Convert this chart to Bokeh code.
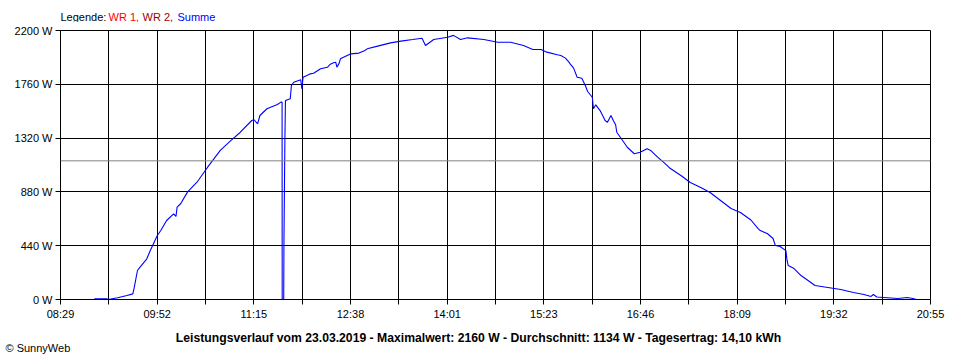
from bokeh.plotting import figure
from bokeh.layouts import column
from bokeh.models import Range1d, FixedTicker, PrintfTickFormatter, Span, Label
from bokeh.embed import file_html
from bokeh.resources import INLINE

# ---- data ----
times = ["08:58", "09:09", "09:10", "09:18", "09:26", "09:31", "09:32", "09:35", "09:36", "09:43",
         "09:46", "09:48", "09:52", "09:55", "10:00", "10:06", "10:08", "10:09", "10:12", "10:18",
         "10:26", "10:35", "10:46", "10:55", "11:03", "11:13", "11:15", "11:18", "11:20", "11:26",
         "11:35", "11:38", "11:39:00", "11:39:06", "11:40:24", "11:40:36", "11:41:24", "11:41:54",
         "11:46", "11:47", "11:49", "11:55", "11:56", "11:57", "12:03", "12:06", "12:12", "12:18",
         "12:20", "12:23", "12:25", "12:26", "12:28", "12:29", "12:38", "12:45", "12:50", "12:52",
         "13:01", "13:12", "13:21", "13:31", "13:39", "13:42", "13:49", "14:01", "14:06", "14:12",
         "14:18", "14:32", "14:44", "14:55", "15:06", "15:14", "15:21", "15:26", "15:35", "15:38",
         "15:42", "15:45", "15:46", "15:49", "15:52", "15:56", "15:59", "16:01", "16:05", "16:06",
         "16:08", "16:12", "16:16", "16:18", "16:21", "16:23", "16:25", "16:26", "16:31", "16:35",
         "16:41", "16:46", "16:52", "16:55", "17:01", "17:06", "17:12", "17:21", "17:29", "17:38",
         "17:46", "17:55", "18:04", "18:12", "18:21", "18:27", "18:29", "18:35", "18:40", "18:42",
         "18:46", "18:51", "18:52", "18:53", "18:58", "19:04", "19:10", "19:16", "19:27", "19:38",
         "19:49", "19:58", "20:04", "20:06", "20:09", "20:15", "20:27", "20:35", "20:40", "20:43"]
summe_w = [5, 5, 0, 14, 33, 46, 87, 237, 251, 333,
           401, 441, 523, 564, 646, 701, 679, 755, 783, 880,
           959, 1080, 1219, 1300, 1366, 1464, 1470, 1437, 1505, 1560,
           1595, 1614, 1614, 0, 0, 469, 1300, 1627,
           1641, 1750, 1777, 1797, 1723, 1818, 1845, 1851, 1887, 1900,
           1922, 1936, 1941, 1900, 1933, 1968, 2009, 2015, 2036, 2050,
           2072, 2099, 2113, 2126, 2137, 2077, 2126, 2145, 2160, 2126,
           2140, 2126, 2104, 2104, 2077, 2045, 2045, 2023, 2001, 1995,
           1974, 1941, 1927, 1892, 1818, 1810, 1750, 1701, 1654, 1560,
           1592, 1540, 1464, 1450, 1505, 1464, 1429, 1368, 1300, 1245,
           1192, 1204, 1232, 1219, 1164, 1123, 1071, 1014, 957, 916,
           875, 810, 744, 711, 650, 581, 564, 540, 499, 441,
           433, 400, 319, 278, 253, 196, 155, 114, 98, 82,
           57, 41, 25, 41, 20, 16, 8, 16, 8, 0]
tick_labels = ["08:29", "09:52", "11:15", "12:38", "14:01", "15:23", "16:46", "18:09", "19:32", "20:55"]
y_ticks = [0, 440, 880, 1320, 1760, 2200]
average_w = 1134
title_text = ("Leistungsverlauf vom 23.03.2019 - Maximalwert: 2160 W - "
              "Durchschnitt: 1134 W - Tagesertrag: 14,10 kWh")
legend_parts = [("Legende:", "#000000"), ("WR 1,", "#FF0000"), ("WR 2,", "#A00000"), ("Summe", "#0000FF")]
credit_text = "© SunnyWeb"


def to_min(s):
    parts = [int(v) for v in s.split(":")]
    m = parts[0] * 60 + parts[1]
    if len(parts) == 3:
        m += parts[2] / 60.0
    return m


xs = [to_min(t) for t in times]
x0 = to_min(tick_labels[0])
x1 = to_min(tick_labels[-1])
n = len(tick_labels) - 1
major = [x0 + i * (x1 - x0) / n for i in range(n + 1)]
minor = [x0 + (i + 0.5) * (x1 - x0) / n for i in range(n)]

FONT = "Liberation Sans"
W = 960
TOP_H, MAIN_H, BOT_H = 22, 302, 36


def text_strip(h):
    f = figure(width=W, height=h, output_backend="svg", toolbar_location=None,
               x_range=Range1d(0, W), y_range=Range1d(h, 0),
               x_axis_type=None, y_axis_type=None, min_border=0, frame_align=False)
    f.xgrid.visible = False
    f.ygrid.visible = False
    f.outline_line_color = None
    f.background_fill_color = "white"
    f.border_fill_color = "white"
    return f


# --- top strip: legend ---
top = text_strip(TOP_H)
legend_x = [60, 108, 142, 177]
for (txt, col), lx in zip(legend_parts, legend_x):
    top.add_layout(Label(x=lx, y=16, text=txt, text_color=col, text_font=FONT,
                         text_font_size="11px", text_align="left", text_baseline="middle"))

# --- main chart ---
p = figure(width=W, height=MAIN_H, output_backend="svg", toolbar_location=None,
           x_range=Range1d(x0, x1), y_range=Range1d(0, 2200), frame_align=False,
           min_border_left=60, min_border_right=30, min_border_top=8, min_border_bottom=25)
p.background_fill_color = "white"
p.border_fill_color = "white"
p.outline_line_color = "black"
p.outline_line_width = 1

p.xaxis.ticker = FixedTicker(ticks=major, minor_ticks=minor)
p.xaxis.major_label_overrides = {t: lab for t, lab in zip(major, tick_labels)}
p.yaxis.ticker = FixedTicker(ticks=y_ticks)
p.yaxis.formatter = PrintfTickFormatter(format="%d W")

for ax in (p.xaxis[0], p.yaxis[0]):
    ax.axis_line_color = "black"
    ax.major_tick_line_color = "black"
    ax.minor_tick_line_color = "black"
    ax.major_tick_out = 5
    ax.major_tick_in = 0
    ax.minor_tick_out = 5
    ax.minor_tick_in = 0
    ax.major_label_text_font = FONT
    ax.major_label_text_font_size = "11px"
    ax.major_label_text_color = "black"
    ax.major_label_standoff = 3
p.yaxis.minor_tick_line_color = None

p.xgrid.grid_line_color = "black"
p.xgrid.minor_grid_line_color = "black"
p.ygrid.grid_line_color = "black"

p.add_layout(Span(location=average_w, dimension="width", line_color="#808080", line_width=1))
p.line(xs, summe_w, line_color="#0000FF", line_width=1.1)

# --- bottom strip: summary title and credit ---
bot = text_strip(BOT_H)
bot.add_layout(Label(x=478, y=13, text=title_text, text_color="black", text_font=FONT,
                     text_font_size="12.2px", text_font_style="bold",
                     text_align="center", text_baseline="middle"))
bot.add_layout(Label(x=5, y=23, text=credit_text, text_color="black", text_font=FONT,
                     text_font_size="11px", text_align="left", text_baseline="middle"))

layout = column(top, p, bot, spacing=0)
open("out.html", "w").write(file_html(layout, INLINE))
